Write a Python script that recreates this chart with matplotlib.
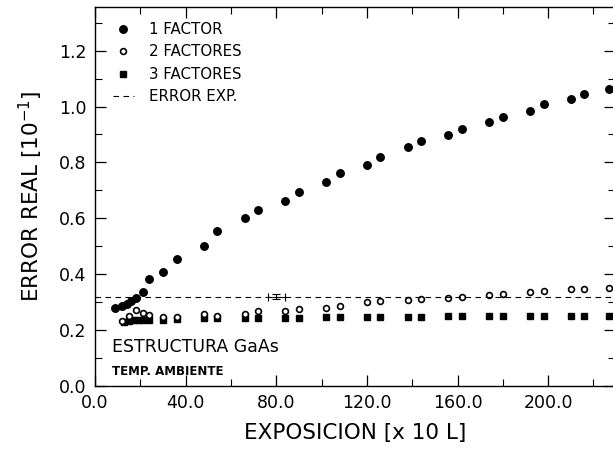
import numpy as np
import matplotlib
matplotlib.use("Agg")
import matplotlib.pyplot as plt
from matplotlib.ticker import MultipleLocator, FormatStrFormatter

plt.rcParams['font.family'] = ['DejaVu Sans']

# 1 FACTOR
x1 = [9, 12, 14, 16, 18, 21, 24, 30, 36, 48, 54, 66, 72, 84, 90, 102, 108, 120, 126,
      138, 144, 156, 162, 174, 180, 192, 198, 210, 216, 227]
y1 = [0.278, 0.286, 0.293, 0.304, 0.314, 0.335, 0.382, 0.406, 0.455, 0.501, 0.555,
      0.601, 0.630, 0.662, 0.693, 0.729, 0.763, 0.792, 0.818, 0.854, 0.878, 0.898,
      0.920, 0.943, 0.962, 0.985, 1.008, 1.026, 1.044, 1.062]

# 2 FACTORES
x2 = [12, 15, 18, 21, 24, 30, 36, 48, 54, 66, 72, 84, 90, 102, 108, 120, 126,
      138, 144, 156, 162, 174, 180, 192, 198, 210, 216, 227]
y2 = [0.232, 0.250, 0.270, 0.262, 0.254, 0.246, 0.246, 0.257, 0.252, 0.257, 0.268,
      0.268, 0.275, 0.280, 0.286, 0.300, 0.305, 0.308, 0.311, 0.314, 0.320, 0.326,
      0.328, 0.335, 0.338, 0.346, 0.346, 0.350]

# 3 FACTORES
x3 = [13, 15, 17, 19, 21, 24, 30, 36, 48, 54, 66, 72, 84, 90, 102, 108, 120, 126,
      138, 144, 156, 162, 174, 180, 192, 198, 210, 216, 227]
y3 = [0.228, 0.232, 0.235, 0.236, 0.236, 0.235, 0.236, 0.238, 0.242, 0.243, 0.242,
      0.242, 0.243, 0.244, 0.245, 0.245, 0.247, 0.247, 0.248, 0.248, 0.249, 0.250,
      0.250, 0.250, 0.250, 0.250, 0.251, 0.251, 0.252]

# ERROR EXP.
err_level = 0.32
err_x, err_y, err_dx, err_dy = 80.0, 0.32, 3.8, 0.008

fig = plt.figure(figsize=(6.13, 4.54), dpi=100)
# right spine falls just outside the picture, as in the scan
ax = fig.add_axes([0.155, 0.150, 0.8475, 0.835])

ax.plot(x1, y1, 'o', color='black', ms=5.4, ls='none', label='1 FACTOR')
ax.plot(x3, y3, 's', color='black', ms=4.8, ls='none', label='3 FACTORES')
ax.plot(x2, y2, 'o', mfc='white', mec='black', mew=1.2, ms=4.2, ls='none',
        label='2 FACTORES')
ax.axhline(err_level, color='black', ls=(0, (5, 4)), lw=0.8, label='ERROR EXP.')
ax.errorbar(err_x, err_y, xerr=err_dx, yerr=err_dy, color='black', lw=0.8,
            capsize=3, capthick=0.8, fmt='none')

ax.set_xlim(0, 229.3)
ax.set_ylim(0, 1.357)
ax.xaxis.set_major_locator(MultipleLocator(40))
ax.xaxis.set_minor_locator(MultipleLocator(20))
ax.yaxis.set_major_locator(MultipleLocator(0.2))
ax.yaxis.set_minor_locator(MultipleLocator(0.1))
ax.xaxis.set_major_formatter(FormatStrFormatter('%.1f'))
ax.yaxis.set_major_formatter(FormatStrFormatter('%.1f'))
ax.tick_params(which='both', direction='in', top=True, right=True, labelsize=12.5)
ax.tick_params(which='major', length=8, width=0.9, pad=6)
ax.tick_params(which='minor', length=5, width=0.8)
for s in ax.spines.values():
    s.set_linewidth(1.0)

ax.set_xlabel('EXPOSICION [x 10 L]', fontsize=15.5, labelpad=8)
ax.set_ylabel('ERROR REAL [10$^{-1}$]', fontsize=15.5, labelpad=10)

ax.text(7.5, 0.141, 'ESTRUCTURA GaAs', fontsize=12.5, va='center')
ax.text(7.5, 0.051, 'TEMP. AMBIENTE', fontsize=8.5, fontweight='bold', va='center')

h, l = ax.get_legend_handles_labels()
order = [l.index('1 FACTOR'), l.index('2 FACTORES'), l.index('3 FACTORES'),
         l.index('ERROR EXP.')]
ax.legend([h[i] for i in order], [l[i] for i in order], loc='upper left',
          frameon=False, fontsize=10.8, handlelength=1.4, handletextpad=1.0,
          labelspacing=0.5, borderaxespad=0.6, bbox_to_anchor=(0.005, 1.0))

fig.savefig('out.png', dpi=100)
